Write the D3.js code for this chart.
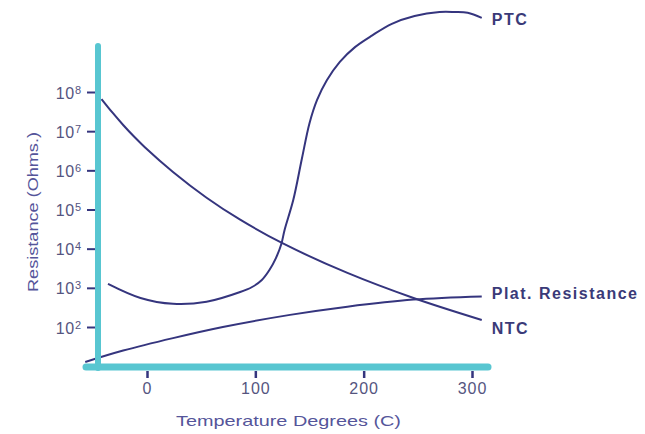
<!DOCTYPE html>
<html>
<head>
<meta charset="utf-8">
<script src="https://cdn.jsdelivr.net/npm/d3@7"></script>
<style>
  body { margin: 0; background: #fff; }
  svg { display: block; font-family: "Liberation Sans", Arial, sans-serif; }
</style>
</head>
<body>
<svg id="chart" width="645" height="434"></svg>
<script>
// ----------------- DATA ----------------- //
var ntcTemp = [-42, -32, -22, -12, -2, 24, 55, 86, 125, 185, 246, 309];
var ntcOhms = [6.6e7, 3.0e7, 1.44e7, 7.3e6, 3.9e6, 9.1e5, 2.0e5, 5.5e4, 1.38e4, 2.4e3, 550, 151];

var ptcTemp = [-36, -6, 24, 55, 86, 97, 106, 113, 119, 124, 127, 135, 143, 150, 157, 166, 178, 192, 208, 226, 247, 270, 284, 296, 309];
var ptcOhms = [1260, 550, 390, 440, 780, 1050, 1590, 2850, 5750, 1.32e4, 3.0e4, 1.74e5, 2.0e6, 1.6e7, 6.3e7, 2.0e8, 5.9e8, 1.4e9, 2.8e9, 5.5e9, 8.7e9, 1.1e10, 1.1e10, 1.05e10, 7.8e9];

var platTemp = [-57, -22, 24, 70, 132, 185, 246, 309];
var platOhms = [12.8, 25, 52, 100, 204, 331, 501, 603];

var xTicks = [0, 100, 200, 300];
var yExponents = [2, 3, 4, 5, 6, 7, 8];

var seriesNames = ['PTC', 'Plat. Resistance', 'NTC'];

// ----------------- SCALES ----------------- //
var svg = d3.select('#chart');
var navy = '#35357e';
var cyan = '#58c6d1';

var x = d3.scaleLinear().domain([0, 300]).range([147, 472]);
var y = d3.scaleLog().domain([1e2, 1e8]).range([327, 92]);

function toPoints(temps, ohms) {
    return temps.map(function (t, i) { return [t, ohms[i]]; });
}

var series = [
    { name: seriesNames[0], pts: toPoints(ptcTemp, ptcOhms), dy: 2 },
    { name: seriesNames[1], pts: toPoints(platTemp, platOhms), dy: -3 },
    { name: seriesNames[2], pts: toPoints(ntcTemp, ntcOhms), dy: 8 }
];

var line = d3.line()
    .x(function (d) { return x(d[0]); })
    .y(function (d) { return y(d[1]); })
    .curve(d3.curveCatmullRom.alpha(0.5));

// ----------------- CURVES ----------------- //
svg.append('g')
    .selectAll('path')
    .data(series)
    .join('path')
    .attr('d', function (d) { return line(d.pts); })
    .attr('fill', 'none')
    .attr('stroke', navy)
    .attr('stroke-width', 2);

svg.append('g')
    .selectAll('text')
    .data(series)
    .join('text')
    .attr('x', function (d) { return x(d.pts[d.pts.length - 1][0]) + 10; })
    .attr('y', function (d) { return y(d.pts[d.pts.length - 1][1]) + d.dy; })
    .attr('dy', '0.35em')
    .attr('fill', '#3a3a78')
    .attr('font-size', 16)
    .attr('font-weight', 'bold')
    .attr('letter-spacing', 1.5)
    .text(function (d) { return d.name; });

// ----------------- AXES ----------------- //
var yAxis = svg.append('g')
    .attr('transform', 'translate(95,0)')
    .call(d3.axisLeft(y)
        .tickValues(yExponents.map(function (e) { return Math.pow(10, e); }))
        .tickSize(8)
        .tickFormat(''));
yAxis.select('.domain').remove();
yAxis.selectAll('.tick line').attr('stroke', navy).attr('stroke-width', 2);
yAxis.selectAll('.tick text').remove();
yAxis.selectAll('.tick')
    .append('text')
    .attr('x', -13)
    .attr('dy', '0.38em')
    .attr('text-anchor', 'end')
    .attr('fill', '#55557f')
    .attr('font-size', 16)
    .attr('letter-spacing', 0.8)
    .each(function (d) {
        var t = d3.select(this);
        t.append('tspan').text('10');
        t.append('tspan')
            .attr('dy', '-0.45em')
            .attr('font-size', 11)
            .text(Math.round(Math.log10(d)));
    });

var xAxis = svg.append('g')
    .attr('transform', 'translate(0,371)')
    .call(d3.axisBottom(x).tickValues(xTicks).tickSize(7).tickPadding(5));
xAxis.select('.domain').remove();
xAxis.selectAll('.tick line').attr('stroke', navy).attr('stroke-width', 2.5);
xAxis.selectAll('.tick text')
    .attr('fill', '#55557f')
    .attr('font-size', 16)
    .attr('letter-spacing', 1)
    .attr('font-family', null);

// thick cyan axis lines
svg.append('line')
    .attr('x1', 98).attr('x2', 98)
    .attr('y1', 46).attr('y2', 368)
    .attr('stroke', cyan).attr('stroke-width', 6)
    .attr('stroke-linecap', 'round');
svg.append('line')
    .attr('x1', 86).attr('x2', 488)
    .attr('y1', 367).attr('y2', 367)
    .attr('stroke', cyan).attr('stroke-width', 7)
    .attr('stroke-linecap', 'round');

// ----------------- TITLES ----------------- //
svg.append('text')
    .attr('x', 176)
    .attr('y', 426)
    .attr('fill', '#55559a')
    .attr('font-size', 14.5)
    .attr('textLength', 225)
    .attr('lengthAdjust', 'spacingAndGlyphs')
    .text('Temperature Degrees (C)');

svg.append('text')
    .attr('transform', 'translate(38,212) rotate(-90)')
    .attr('text-anchor', 'middle')
    .attr('fill', '#55559a')
    .attr('font-size', 15)
    .attr('textLength', 160)
    .attr('lengthAdjust', 'spacingAndGlyphs')
    .text('Resistance (Ohms.)');
</script>
</body>
</html>
